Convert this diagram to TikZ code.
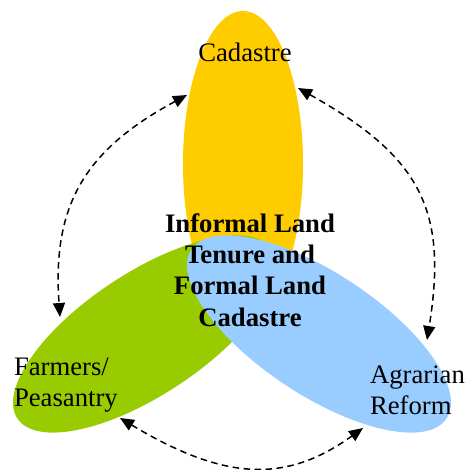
\documentclass[tikz,border=0pt]{standalone}
\usepackage{fontspec}
\setmainfont{Liberation Serif}
\usetikzlibrary{shapes.geometric,arrows.meta}
\definecolor{cyel}{HTML}{FFCC00}
\definecolor{cgrn}{HTML}{99CC00}
\definecolor{cblu}{HTML}{99CCFF}
\begin{document}
\begin{tikzpicture}[x=1bp,y=-1bp,
  petal/.style={ellipse,inner sep=0pt,outer sep=0pt,draw=none},
  lbl/.style={font=\fontsize{26.8}{31.3}\selectfont,inner sep=0pt,outer sep=0pt},
  link/.style={dashed,dash pattern=on 6.5bp off 4.5bp,line width=1.5bp,
    {Triangle[length=14bp,width=12bp]}-{Triangle[length=14bp,width=12bp]}}]
\useasboundingbox (0,0) rectangle (465,470);
\node[petal,fill=cyel,minimum width=120bp,minimum height=306bp] (yel) at (243,164) {};
\node[petal,fill=cgrn,minimum width=306bp,minimum height=122bp,rotate=33.5] (grn) at (145,334) {};
\node[petal,fill=cblu,minimum width=306bp,minimum height=122bp,rotate=-33.5] (blu) at (319,334) {};
\node[lbl] (tcad) at (245,52) {Cadastre};
\node[lbl,align=center,font=\fontsize{26.8}{31.3}\selectfont\bfseries] (tmid) at (250,270) {Informal Land\\Tenure and\\Formal Land\\Cadastre};
\node[lbl,align=left,anchor=west] (tfarm) at (14,385) {Farmers/\\Peasantry};
\node[lbl,align=left,anchor=west] (tagr) at (370,390) {Agrarian\\Reform};
\coordinate (l1) at (187,95);
\coordinate (l2) at (60,317);
\coordinate (r1) at (298,88);
\coordinate (r2) at (427,340);
\coordinate (b1) at (120,418);
\coordinate (b2) at (363,428);
\draw[link] (l1) .. controls (85,150) and (52,205) .. (l2);
\draw[link] (r1) .. controls (421,157) and (448,210) .. (r2);
\draw[link] (b1) .. controls (225,481) and (286,483.5) .. (b2);
\end{tikzpicture}
\end{document}
